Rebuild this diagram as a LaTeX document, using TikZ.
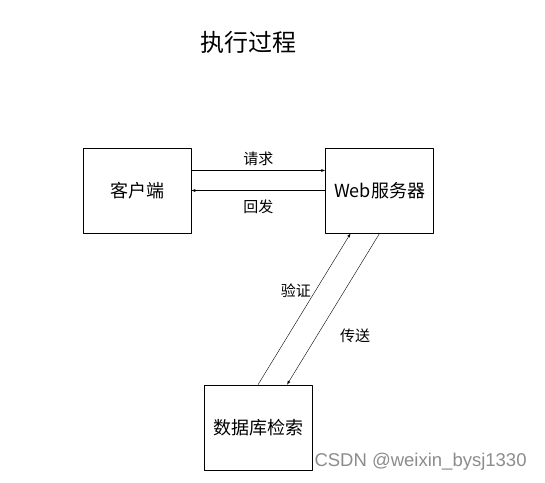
\documentclass[tikz,border=0pt]{standalone}
\usepackage{fontspec}
\newfontfamily\cjk{Noto Sans CJK SC}
\newfontfamily\wmfont{Liberation Sans}
\usetikzlibrary{positioning}
\begin{document}
\begin{tikzpicture}[x=1pt,y=-1pt,>=latex,line join=round]
	\tikzset{box/.style={draw,semithick,minimum width=108pt,minimum height=85pt,inner sep=0pt,font=\cjk\fontsize{18}{22}\selectfont},
		lbl/.style={font=\cjk\fontsize{15}{18}\selectfont}}
	\useasboundingbox (0,0) rectangle (545,482);
	\node[font=\cjk\fontsize{24}{28}\selectfont] (title) at (248,42) {执行过程};
	\node[box] (client) at (137,190.5) {客户端};
	\node[box] (web) [right=134pt of client] {Web服务器};
	\node[box] (db) at (258,427.5) {数据库检索};
	% client <-> web
	\draw[->] ([yshift=20]client.east) -- ([yshift=20]web.west) node[lbl,midway,above=1pt] {请求};
	\draw[->] (web.west) -- (client.east) node[lbl,midway,below=6pt] {回发};
	% web <-> db
	\draw[->] (db.north) -- ([xshift=-29]web.south) node[lbl,pos=0.62,left=1pt] {验证};
	\draw[->] (web.south) -- ([xshift=29]db.north) node[lbl,pos=0.68,right=20pt] {传送};
	\node[font=\wmfont\fontsize{18.5}{20}\selectfont,text=black!45,anchor=west] (mark) at (311,462) {CSDN @weixin\_bysj1330};
\end{tikzpicture}
\end{document}
